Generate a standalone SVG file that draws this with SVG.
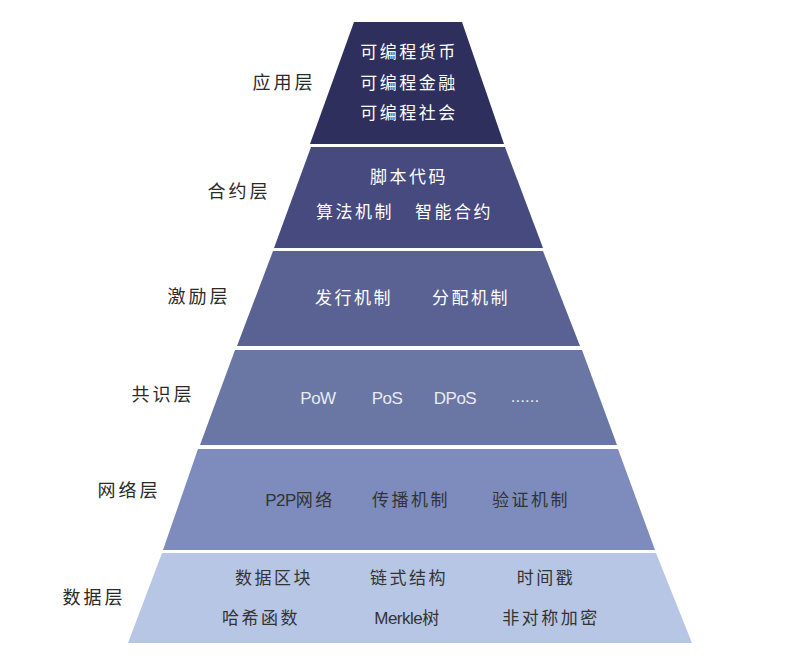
<svg xmlns="http://www.w3.org/2000/svg" width="806" height="662" viewBox="0 0 806 662">
<style>
.lbl{font-family:"Noto Sans CJK SC","Noto Sans",sans-serif;font-size:18px;fill:#2a2a2a;letter-spacing:3px;text-anchor:middle}
.w{font-family:"Noto Sans CJK SC","Noto Sans",sans-serif;font-size:17px;fill:#ffffff;letter-spacing:2.5px;text-anchor:middle}
.d{font-family:"Noto Sans CJK SC","Noto Sans",sans-serif;font-size:17px;fill:#333;letter-spacing:2.5px;text-anchor:middle}
.lat{font-family:"Liberation Sans","Noto Sans",sans-serif;font-size:17px;fill:#e8ebf5;letter-spacing:-0.5px;text-anchor:middle}
</style>
<rect width="806" height="662" fill="#ffffff"/>
<g id="layer-app">
<polygon points="354,22 462,22 504,144 310,144" fill="#2e2f5c"/>
<text class="w" x="409" y="58">可编程货币</text>
<text class="w" x="409" y="89">可编程金融</text>
<text class="w" x="409" y="119">可编程社会</text>
<text class="lbl" x="284" y="89">应用层</text>
</g>
<g id="layer-contract">
<polygon points="311,147 505,147 543,248 274,248" fill="#464a7e"/>
<text class="w" x="409" y="183">脚本代码</text>
<text class="w" x="355" y="218">算法机制</text>
<text class="w" x="454" y="218">智能合约</text>
<text class="lbl" x="239" y="198">合约层</text>
</g>
<g id="layer-incentive">
<polygon points="273,251 543,251 580,346 237,346" fill="#5a6293"/>
<text class="w" x="354" y="304">发行机制</text>
<text class="w" x="471" y="304">分配机制</text>
<text class="lbl" x="199" y="303">激励层</text>
</g>
<g id="layer-consensus">
<polygon points="235,350 582,350 617,445 200,445" fill="#6a76a3"/>
<text class="lat" x="318" y="404">PoW</text>
<text class="lat" x="387" y="404">PoS</text>
<text class="lat" x="455" y="404">DPoS</text>
<text class="lat" x="525" y="402" style="letter-spacing:0">......</text>
<text class="lbl" x="163" y="401">共识层</text>
</g>
<g id="layer-network">
<polygon points="198,449 618,449 655,550 163,550" fill="#7d8cbd"/>
<text class="d" x="300" y="506"><tspan style="font-family:'Liberation Sans',sans-serif;letter-spacing:-0.5px">P2P</tspan>网络</text>
<text class="d" x="411" y="506">传播机制</text>
<text class="d" x="531" y="506">验证机制</text>
<text class="lbl" x="129" y="497">网络层</text>
</g>
<g id="layer-data">
<polygon points="162,553 656,553 692,643 128,643" fill="#b7c6e4"/>
<text class="d" x="274" y="584">数据区块</text>
<text class="d" x="409" y="584">链式结构</text>
<text class="d" x="546" y="584">时间戳</text>
<text class="d" x="261" y="624">哈希函数</text>
<text class="d" x="408" y="624"><tspan style="font-family:'Liberation Sans',sans-serif;letter-spacing:-0.5px">Merkle</tspan>树</text>
<text class="d" x="551" y="624">非对称加密</text>
<text class="lbl" x="94" y="604">数据层</text>
</g>
<g id="connectors"></g>
</svg>
